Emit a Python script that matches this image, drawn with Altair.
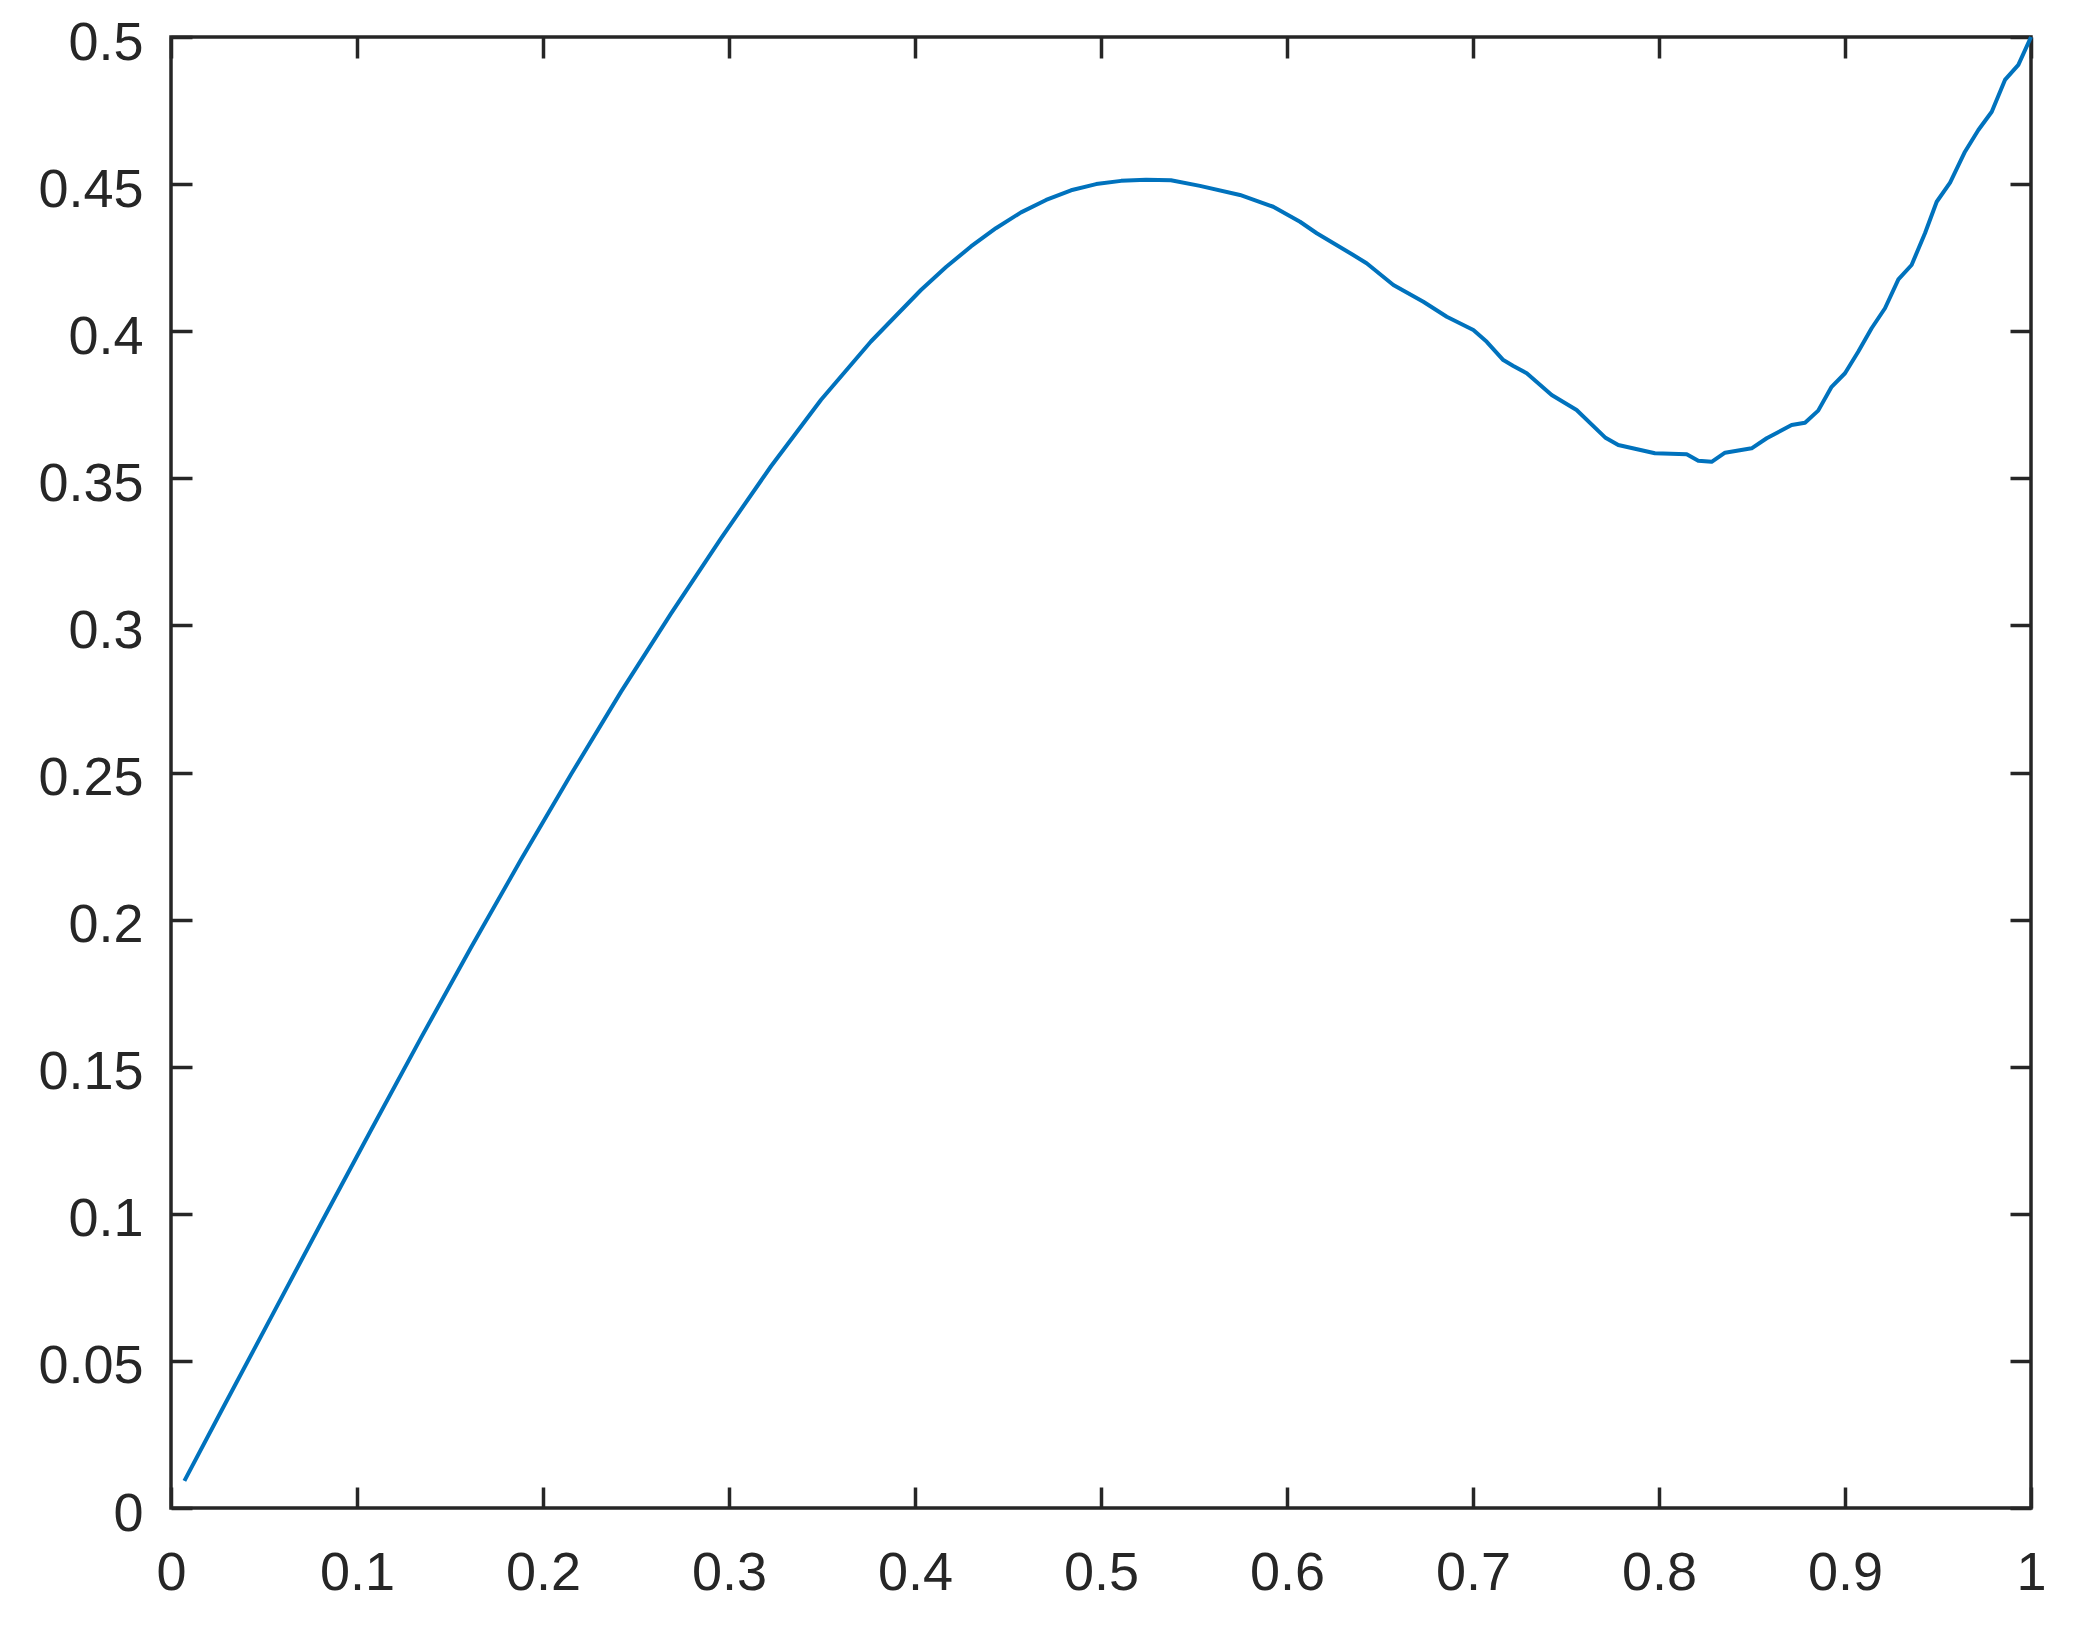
import altair as alt
import pandas as pd

x_vals = [0.0072, 0.0269, 0.0538, 0.0806, 0.1075, 0.1344, 0.1613, 0.1882, 0.2151, 0.2419,
          0.2688, 0.2957, 0.3226, 0.3495, 0.3763, 0.4032, 0.4167, 0.4301, 0.4435, 0.4570,
          0.4705, 0.4839, 0.4974, 0.5108, 0.5242, 0.5376, 0.5532, 0.5747, 0.5926, 0.6070,
          0.6160, 0.6356, 0.6428, 0.6572, 0.6733, 0.6859, 0.7002, 0.7074, 0.7163, 0.7217,
          0.7289, 0.7423, 0.7557, 0.7710, 0.7781, 0.7978, 0.8149, 0.8211, 0.8283, 0.8355,
          0.8498, 0.8579, 0.8713, 0.8785, 0.8856, 0.8928, 0.9000, 0.9071, 0.9143, 0.9215,
          0.9287, 0.9358, 0.9430, 0.9493, 0.9565, 0.9645, 0.9717, 0.9789, 0.9860, 0.9932,
          1.0000]
y_vals = [0.0092, 0.0328, 0.0648, 0.0967, 0.1284, 0.1598, 0.1905, 0.2204, 0.2494, 0.2774,
          0.3040, 0.3296, 0.3541, 0.3767, 0.3965, 0.4140, 0.4218, 0.4288, 0.4350, 0.4404,
          0.4446, 0.4479, 0.4500, 0.4511, 0.4515, 0.4513, 0.4494, 0.4463, 0.4423, 0.4372,
          0.4333, 0.4259, 0.4231, 0.4157, 0.4100, 0.4049, 0.4004, 0.3964, 0.3902, 0.3882,
          0.3857, 0.3783, 0.3732, 0.3639, 0.3613, 0.3585, 0.3582, 0.3560, 0.3556, 0.3587,
          0.3602, 0.3636, 0.3681, 0.3689, 0.3730, 0.3811, 0.3857, 0.3930, 0.4010, 0.4078,
          0.4176, 0.4225, 0.4333, 0.4440, 0.4505, 0.4610, 0.4684, 0.4746, 0.4854, 0.4905,
          0.5000]

x_ticks = [0, 0.1, 0.2, 0.3, 0.4, 0.5, 0.6, 0.7, 0.8, 0.9, 1]
y_ticks = [0, 0.05, 0.1, 0.15, 0.2, 0.25, 0.3, 0.35, 0.4, 0.45, 0.5]

df = pd.DataFrame({"x": x_vals, "y": y_vals})

AX = "#262626"
FONT = "Liberation Sans"
FS = 54

xs = alt.Scale(domain=[0, 1], nice=False, zero=False)
ys = alt.Scale(domain=[0, 0.5], nice=False, zero=False)

common = dict(domain=False, grid=False, tickSize=21, tickWidth=3.5, tickColor=AX,
              offset=-21, title=None, labelFont=FONT, labelFontSize=FS, labelColor=AX)

main = alt.Chart(df).mark_line(color="#0072BD", strokeWidth=4, strokeJoin="round").encode(
    x=alt.X("x:Q", scale=xs, axis=alt.Axis(orient="bottom", values=x_ticks, labelPadding=38,
                                            labelExpr="datum.value == 0 ? '0' : datum.value == 1 ? '1' : format(datum.value, '.1f')",
                                            labelFlush=False, labelOverlap=False, **common)),
    y=alt.Y("y:Q", scale=ys, axis=alt.Axis(orient="left", values=y_ticks, labelPadding=28,
                                            labelOffset=6, labelFlush=False, labelOverlap=False,
                                            labelExpr="datum.value == 0 ? '0' : format(datum.value, '~g')",
                                            **common)),
)

mirror = alt.Chart(df).mark_line(strokeOpacity=0).encode(
    x=alt.X("x:Q", scale=xs, axis=alt.Axis(orient="top", values=x_ticks, labels=False, **common)),
    y=alt.Y("y:Q", scale=ys, axis=alt.Axis(orient="right", values=y_ticks, labels=False, **common)),
)

chart = alt.layer(main, mirror).resolve_scale(x="independent", y="independent").properties(
    width=1860, height=1471,
    autosize=alt.AutoSizeParams(type="none"),
    padding={"left": 163, "top": 29, "right": 40, "bottom": 110},
    background="white",
).configure_view(stroke=AX, strokeWidth=3.5)

chart.save("out.html", embed_options={"renderer": "svg", "actions": False})
